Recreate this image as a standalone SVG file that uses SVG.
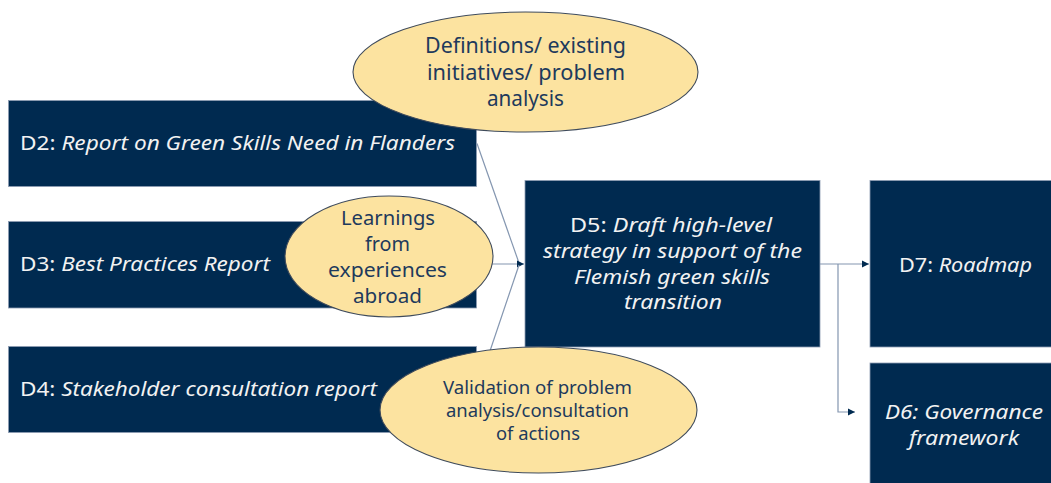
<svg xmlns="http://www.w3.org/2000/svg" width="1051" height="483" viewBox="0 0 1051 483">
<style>
.box{fill:#002A50;stroke:#8d9cb2;stroke-width:0.8}
.bt{font-family:"Noto Sans","Open Sans",sans-serif;fill:#F2F2F2}
.it{font-style:italic}
.ell{fill:#FCE3A0;stroke:#3F4B5B;stroke-width:1.1}
.et{font-family:"Noto Sans","Open Sans",sans-serif;fill:#1E3A5C}
.con{fill:none;stroke:#8496B0;stroke-width:1.2}
</style>
<defs>
<marker id="arr" markerUnits="userSpaceOnUse" markerWidth="8" markerHeight="8" refX="7" refY="4" orient="auto">
<path d="M0,0.5 L7,4 L0,7.5 Z" fill="#002A50"/>
</marker>
</defs>
<rect width="1051" height="483" fill="#FFFFFF"/>
<g id="D2">
<rect class="box" x="8.5" y="100.5" width="468" height="86"/>
<text class="bt" x="20" y="150" font-size="19" textLength="435" lengthAdjust="spacingAndGlyphs">D2: <tspan class="it">Report on Green Skills Need in Flanders</tspan></text>
</g>
<g id="D3">
<rect class="box" x="8.5" y="221.5" width="468" height="86.5"/>
<text class="bt" x="20" y="271" font-size="19" textLength="250" lengthAdjust="spacingAndGlyphs">D3: <tspan class="it">Best Practices Report</tspan></text>
</g>
<g id="D4">
<rect class="box" x="8.5" y="346.5" width="468" height="86"/>
<text class="bt" x="20" y="396" font-size="19" textLength="357" lengthAdjust="spacingAndGlyphs">D4: <tspan class="it">Stakeholder consultation report</tspan></text>
</g>
<g id="D5">
<rect class="box" x="525" y="180.5" width="295" height="166.5"/>
<text class="bt" x="570" y="232" font-size="20" textLength="202" lengthAdjust="spacingAndGlyphs">D5: <tspan class="it">Draft high-level</tspan></text>
<text class="bt it" x="543" y="258" font-size="20" textLength="259" lengthAdjust="spacingAndGlyphs">strategy in support of the</text>
<text class="bt it" x="574" y="283.5" font-size="20" textLength="196" lengthAdjust="spacingAndGlyphs">Flemish green skills</text>
<text class="bt it" x="624" y="309" font-size="20" textLength="98" lengthAdjust="spacingAndGlyphs">transition</text>
</g>
<g id="D7">
<rect class="box" x="870" y="180.5" width="185" height="166.5"/>
<text class="bt" x="899" y="272" font-size="20" textLength="133" lengthAdjust="spacingAndGlyphs">D7: <tspan class="it">Roadmap</tspan></text>
</g>
<g id="D6">
<rect class="box" x="870" y="363" width="185" height="130"/>
<text class="bt it" x="885" y="419" font-size="20" textLength="158" lengthAdjust="spacingAndGlyphs">D6: Governance</text>
<text class="bt it" x="909" y="445" font-size="20" textLength="110" lengthAdjust="spacingAndGlyphs">framework</text>
</g>
<g id="connectors">
<path class="con" d="M477,143.5 L519,263"/>
<path class="con" d="M477,264 L524,264" marker-end="url(#arr)"/>
<path class="con" d="M477,389.5 L519,265"/>
<path class="con" d="M820,264 L869,264" marker-end="url(#arr)"/>
<path class="con" d="M838,264 L838,412 L855,412" marker-end="url(#arr)"/>
</g>
<g id="E1">
<ellipse class="ell" cx="525.5" cy="72" rx="172.5" ry="60"/>
<text class="et" x="425" y="53" font-size="21" textLength="201" lengthAdjust="spacingAndGlyphs">Definitions/ existing</text>
<text class="et" x="427" y="80" font-size="21" textLength="198" lengthAdjust="spacingAndGlyphs">initiatives/ problem</text>
<text class="et" x="487" y="106" font-size="21" textLength="77" lengthAdjust="spacingAndGlyphs">analysis</text>
</g>
<g id="E2">
<ellipse class="ell" cx="389" cy="256.5" rx="104" ry="60.5"/>
<text class="et" x="341" y="225" font-size="20" textLength="94" lengthAdjust="spacingAndGlyphs">Learnings</text>
<text class="et" x="365" y="251" font-size="20" textLength="45" lengthAdjust="spacingAndGlyphs">from</text>
<text class="et" x="328" y="277" font-size="20" textLength="119" lengthAdjust="spacingAndGlyphs">experiences</text>
<text class="et" x="353" y="303" font-size="20" textLength="69" lengthAdjust="spacingAndGlyphs">abroad</text>
</g>
<g id="E3">
<ellipse class="ell" cx="538.5" cy="410" rx="158.5" ry="63"/>
<text class="et" x="443" y="394" font-size="18" textLength="189" lengthAdjust="spacingAndGlyphs">Validation of problem</text>
<text class="et" x="446" y="417" font-size="18" textLength="183" lengthAdjust="spacingAndGlyphs">analysis/consultation</text>
<text class="et" x="496" y="440" font-size="18" textLength="84" lengthAdjust="spacingAndGlyphs">of actions</text>
</g>
</svg>
